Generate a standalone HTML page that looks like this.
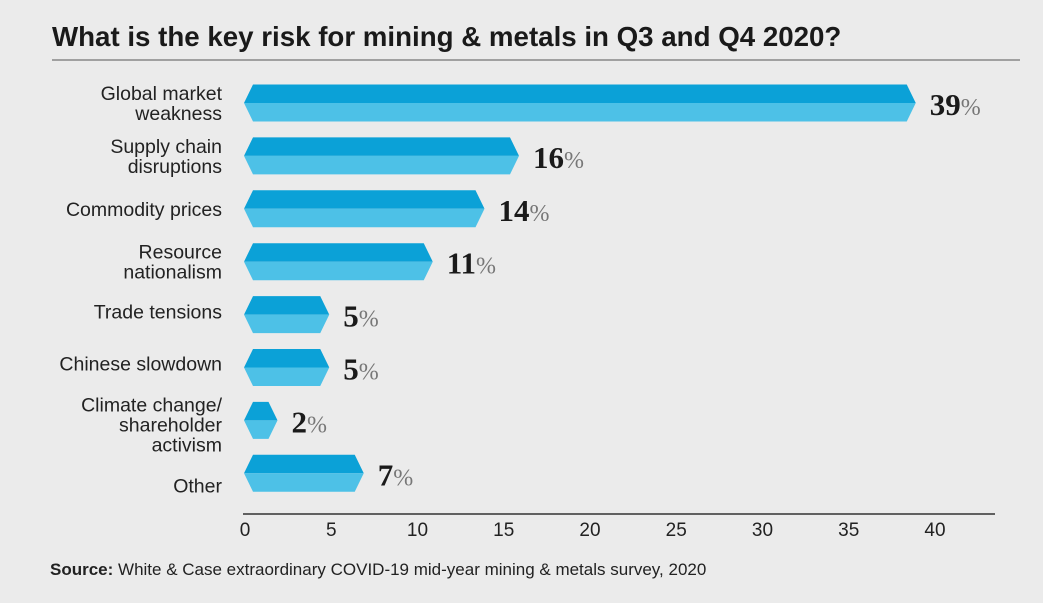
<!DOCTYPE html>
<html><head><meta charset="utf-8"><style>
body{margin:0;background:#ebebeb;width:1043px;height:598px;overflow:hidden;font-family:"Liberation Sans",sans-serif}
</style></head><body>
<svg width="1043" height="598">
<rect width="1043" height="598" fill="#ebebeb"/>
<text x="52" y="46" font-size="27.7" font-weight="bold" fill="#1a1a1a">What is the key risk for mining &amp; metals in Q3 and Q4 2020?</text>
<line x1="52" y1="60" x2="1020" y2="60" stroke="#555" stroke-width="1"/>
<g id="bars"></g>
<line x1="243" y1="514" x2="995" y2="514" stroke="#333" stroke-width="1.5"/>
<g id="ticks"></g>
<text x="50" y="575" font-size="17" fill="#222"><tspan font-weight="bold">Source:</tspan> White &amp; Case extraordinary COVID-19 mid-year mining &amp; metals survey, 2020</text>
</svg>
<script>
const categories=[["Global market","weakness"],["Supply chain","disruptions"],["Commodity prices"],["Resource","nationalism"],["Trade tensions"],["Chinese slowdown"],["Climate change/","shareholder","activism"],["Other"]];
const values=[39,16,14,11,5,5,2,7];
const ticks=[0,5,10,15,20,25,30,35,40];
const labelShift=[0,0,0,0,-3,-4,4,12];
const NS="http://www.w3.org/2000/svg";
const x=v=>245+v*17.25;
const y=i=>103+i*52.9;
function mk(t,a,p){const e=document.createElementNS(NS,t);for(const k in a)e.setAttribute(k,a[k]);p.appendChild(e);return e;}
const gb=document.getElementById('bars');
values.forEach((v,i)=>{
 const cy=y(i),h=18.5,x0=244,x1=x(v)-2,d=9;
 const top=mk('polygon',{points:`${x0},${cy} ${x0+d},${cy-h} ${x1-d},${cy-h} ${x1},${cy}`,fill:'#0ba1d7'},gb);
 
 
 const bot=mk('polygon',{points:`${x0},${cy} ${x1},${cy} ${x1-d},${cy+h} ${x0+d},${cy+h}`,fill:'#4dc1e7'},gb);
 
 
 const lines=categories[i];
 const lab=mk('text',{x:222,'text-anchor':'end','font-size':19.5,fill:'#222'},gb);
 
 
 lines.forEach((s,j)=>{const t=mk('tspan',{x:222,y:cy+7+labelShift[i]+(j-(lines.length-1)/2)*20},lab);t.textContent=s;});
 const vl=mk('text',{x:x1+14,y:cy+12,'font-family':'Liberation Serif, serif','font-size':31},gb);
 
 
 const n=mk('tspan',{'font-weight':'bold',fill:'#1a1a1a'},vl);n.textContent=v;
 const p=mk('tspan',{fill:'#777','font-size':24},vl);p.textContent='%';
});
const gt=document.getElementById('ticks');
ticks.forEach(t=>{
 const e=mk('text',{x:x(t),y:536,'text-anchor':'middle','font-size':19,fill:'#222'},gt);
 
 
 e.textContent=t;
});
</script>
</body></html>
